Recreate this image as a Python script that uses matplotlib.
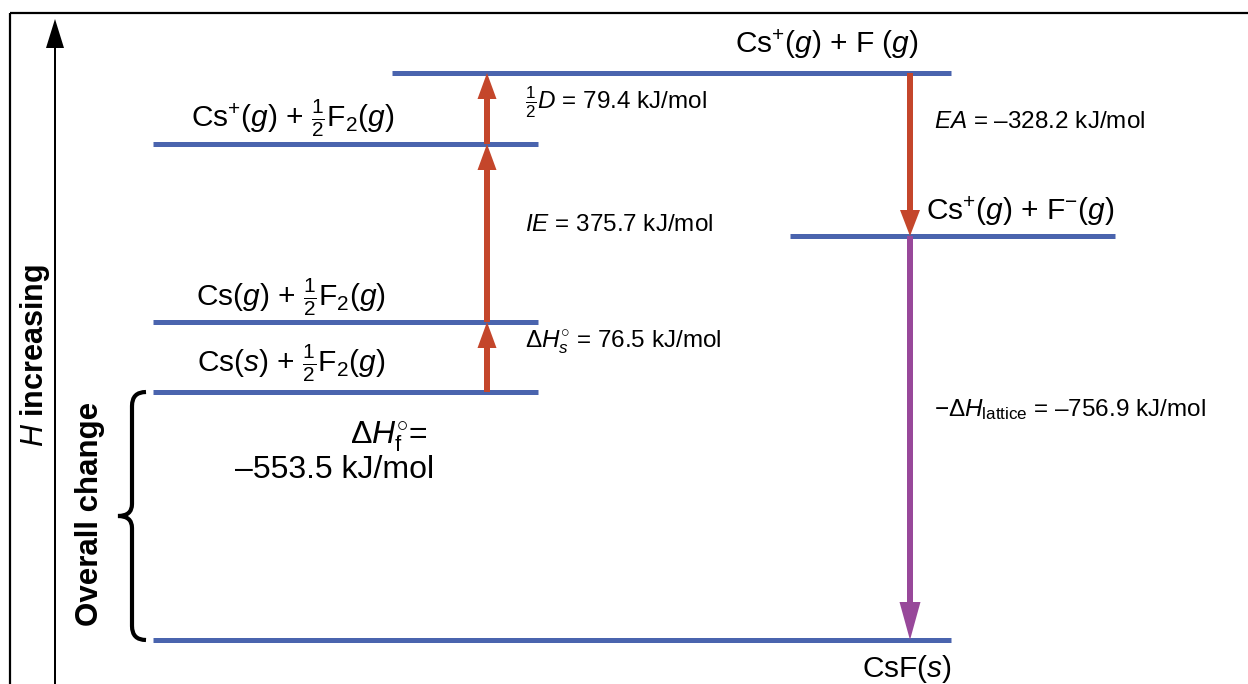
import matplotlib.pyplot as plt
from matplotlib.path import Path
from matplotlib.patches import PathPatch

plt.rcParams['font.family'] = ['Liberation Sans', 'DejaVu Sans']
plt.rcParams['mathtext.fontset'] = 'custom'
plt.rcParams['mathtext.rm'] = 'Liberation Sans'
plt.rcParams['mathtext.it'] = 'Liberation Sans:italic'
plt.rcParams['mathtext.bf'] = 'Liberation Sans:bold'

# energy levels of the cycle (height as drawn in the diagram, not to scale)
level_names = [r'Cs($\mathit{s}$) + $\frac{1}{2}$F$_2$($\mathit{g}$)',
               r'Cs($\mathit{g}$) + $\frac{1}{2}$F$_2$($\mathit{g}$)',
               r'Cs$^{+}$($\mathit{g}$) + $\frac{1}{2}$F$_2$($\mathit{g}$)',
               r'Cs$^{+}$($\mathit{g}$) + F ($\mathit{g}$)',
               r'Cs$^{+}$($\mathit{g}$) + F$^{-}$($\mathit{g}$)',
               r'CsF($\mathit{s}$)']
level_height = [292, 362, 540, 611, 448, 44]

# steps: from level -> to level and their enthalpies (kJ/mol)
step_from = [0, 1, 2, 3, 4]
step_to = [1, 2, 3, 4, 5]
step_values = [76.5, 375.7, 79.4, -328.2, -756.9]
step_names = [r'$\Delta \mathit{H}^{\circ}_{s}$', r'$\mathit{IE}$', r'$\frac{1}{2}\mathit{D}$',
              r'$\mathit{EA}$', r'$-\Delta \mathit{H}_{\rm lattice}$']
formation = -553.5

blue = '#4a64ae'
red = '#c4462b'
purple = '#98489a'

fig = plt.figure(figsize=(12.48, 6.84), dpi=100)
ax = fig.add_axes([0, 0, 1, 1])
ax.set_xlim(0, 1248)
ax.set_ylim(0, 684)
ax.axis('off')

def fmt(v):
    s = f"{abs(v):.1f} kJ/mol"
    return ("\u2013" + s) if v < 0 else s

# frame
ax.plot([10, 1248], [671, 671], color='black', lw=1.6, solid_capstyle='butt')
ax.plot([10, 10], [671, 0], color='black', lw=1.6, solid_capstyle='butt')

# H axis
ax.arrow(55, 0, 0, 665, width=2, head_width=18, head_length=29,
         length_includes_head=True, color='black', lw=0)
ax.text(35, 328, r'$\mathbf{\mathit{H}}$ increasing', rotation=90, ha='center', va='center',
        fontsize=22, fontweight='bold')
ax.text(90, 170, 'Overall change', rotation=90, ha='center', va='center',
        fontsize=22.5, fontweight='bold')

# level lines
x_spans = [(153, 538), (153, 538), (153, 538), (392, 951), (790, 1115), (153, 951)]
for (x0, x1), h in zip(x_spans, level_height):
    ax.plot([x0, x1], [h, h], color=blue, lw=3.6, solid_capstyle='butt', zorder=2)

# level labels
fs = 21.5
ax.text(291, level_height[0] + 29, level_names[0], ha='center', va='center', fontsize=fs)
ax.text(291, level_height[1] + 25, level_names[1], ha='center', va='center', fontsize=fs)
ax.text(293, level_height[2] + 26, level_names[2], ha='center', va='center', fontsize=fs)
ax.text(827, level_height[3] + 29, level_names[3], ha='center', va='center', fontsize=fs)
ax.text(926, level_height[4] + 25, level_names[4], ha='left', va='center', fontsize=fs)
ax.text(907, level_height[5] - 29, level_names[5], ha='center', va='center', fontsize=fs)

# arrows
arrow_x = [487, 487, 487, 910, 910]
arrow_col = [red, red, red, red, purple]
head_len = [26, 26, 26, 26, 38]
head_w = [19, 19, 19, 20, 21]
for i in range(5):
    y0 = level_height[step_from[i]]
    y1 = level_height[step_to[i]]
    ax.arrow(arrow_x[i], y0, 0, y1 - y0, width=6, head_width=head_w[i],
             head_length=head_len[i], length_includes_head=True,
             color=arrow_col[i], lw=0, zorder=3)

# step labels
sfs = 17.5
ax.text(525, 342, step_names[0] + ' = ' + fmt(step_values[0]), ha='left', va='center', fontsize=sfs)
ax.text(525, 459, step_names[1] + ' = ' + fmt(step_values[1]), ha='left', va='center', fontsize=sfs)
ax.text(525, 582, step_names[2] + ' = ' + fmt(step_values[2]), ha='left', va='center', fontsize=sfs)
ax.text(934, 562, step_names[3] + ' = ' + fmt(step_values[3]), ha='left', va='center', fontsize=sfs)
ax.text(934, 274, step_names[4] + ' = ' + fmt(step_values[4]), ha='left', va='center', fontsize=sfs)

# overall change
ax.text(428, 247, r'$\Delta \mathit{H}^{\circ}_{\rm f}$=', ha='right', va='center', fontsize=23)
ax.text(335, 214, fmt(formation), ha='center', va='center', fontsize=23)

# brace
top = level_height[0]
bot = level_height[5]
mid = (top + bot) / 2
verts = [(146, top), (132, top), (132, top - 14),
         (132, mid + 12), (132, mid), (118, mid),
         (132, mid), (132, mid - 12),
         (132, bot + 14), (132, bot), (146, bot)]
codes = [Path.MOVETO, Path.CURVE3, Path.CURVE3,
         Path.LINETO, Path.CURVE3, Path.CURVE3,
         Path.CURVE3, Path.CURVE3,
         Path.LINETO, Path.CURVE3, Path.CURVE3]
ax.add_patch(PathPatch(Path(verts, codes), fill=False, lw=3, color='black'))

fig.savefig('out.png', dpi=100)
